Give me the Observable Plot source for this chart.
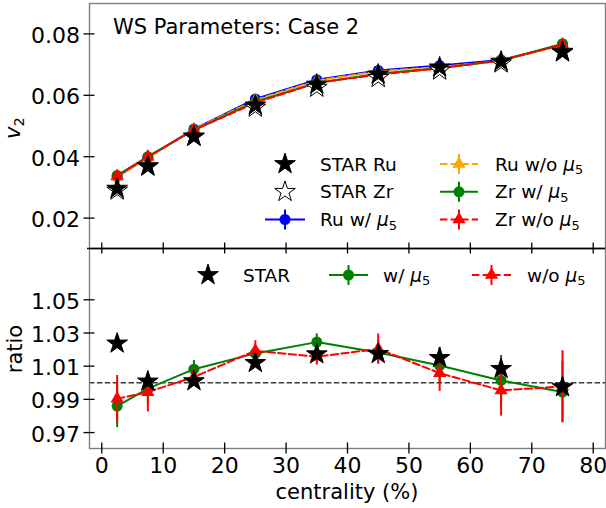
<!DOCTYPE html>
<html><head><meta charset="utf-8">
<script src="https://cdn.jsdelivr.net/npm/d3@7"></script>
<script src="https://cdn.jsdelivr.net/npm/@observablehq/plot@0.6"></script>
<style>
body{margin:0;background:#fff;}
#chart{position:relative;width:606px;height:508px;font-family:"DejaVu Sans",sans-serif;}
#chart svg{position:absolute;left:0;overflow:visible;}
</style></head><body><div id="chart"></div>
<script>
// ---- data ----
const centrality = [2.5, 7.5, 15, 25, 35, 45, 55, 65, 75];
const starRu    = [0.0296, 0.0369, 0.0466, 0.0567, 0.0635, 0.0668, 0.0691, 0.0710, 0.0740];
const starZr    = [0.0290, 0.0368, 0.0465, 0.0560, 0.0625, 0.0657, 0.0681, 0.0704, 0.0742];
const ruWith    = [0.0335, 0.0398, 0.0490, 0.0588, 0.0651, 0.0681, 0.0697, 0.0715, 0.0764];
const ruWithout = [0.0334, 0.0397, 0.0489, 0.0584, 0.0648, 0.0678, 0.0692, 0.0712, 0.0764];
const zrWith    = [0.0339, 0.0400, 0.0487, 0.0579, 0.0640, 0.0670, 0.0688, 0.0713, 0.0768];
const zrWithout = [0.0337, 0.0400, 0.0487, 0.0575, 0.0641, 0.0667, 0.0688, 0.0714, 0.0765];

const ratioStar       = [1.0237, 1.0008, 1.0010, 1.0120, 1.0172, 1.0174, 1.0150, 1.0084, 0.9974];
const ratioWith       = [0.9860, 0.9965, 1.0082, 1.0177, 1.0245, 1.0183, 1.0104, 1.0014, 0.9944];
const ratioWithErr    = [0.0130, 0.0080, 0.0052, 0.0040, 0.0050, 0.0070, 0.0110, 0.0150, 0.0186];
const ratioWithout    = [0.9904, 0.9944, 1.0035, 1.0193, 1.0157, 1.0204, 1.0058, 0.9954, 0.9978];
const ratioWithoutErr = [0.0140, 0.0120, 0.0050, 0.0060, 0.0050, 0.0090, 0.0110, 0.0155, 0.0215];

const xTicks = [0, 10, 20, 30, 40, 50, 60, 70, 80];
const yTopTicks = [0.02, 0.04, 0.06, 0.08];
const yBotTicks = [0.97, 0.99, 1.01, 1.03, 1.05];
const titleText = "WS Parameters: Case 2";
const xLabel = "centrality (%)";

// ---- layout ----
const W = 606, ML = 89, MR = 1;
const xDomain = [-2, 82];
const topH = 256, topMT = 3, topMB = 8;
const botTop = 248, botH = 260, botMT = 0, botMB = 60;
const yTopDomain = [0.0101, 0.0899];
const yBotDomain = [0.9604, 1.0809];
const TK = 5.5;
const frameW = W - ML - MR;
const spine = "#808080";
const dash = "7.4,3.2";
const rStar = 6.5, rCirc = 5.5, rTri = 4.9;

const rows = vals => centrality.map((c, i) => ({c, v: vals[i]}));
const rowsE = (vals, errs) => centrality.map((c, i) => ({c, v: vals[i], lo: vals[i] - errs[i], hi: vals[i] + errs[i]}));

function modelMarks(vals, color, symbol, r, dashed) {
  return [
    Plot.line(rows(vals), {x: "c", y: "v", stroke: color, strokeWidth: 2, strokeDasharray: dashed ? dash : null}),
    Plot.dot(rows(vals), {x: "c", y: "v", fill: color, stroke: "none", symbol, r})
  ];
}
function ratioMarks(vals, errs, color, symbol, r, dashed) {
  const d = rowsE(vals, errs);
  return [
    Plot.line(d, {x: "c", y: "v", stroke: color, strokeWidth: 2, strokeDasharray: dashed ? dash : null}),
    Plot.ruleX(d, {x: "c", y1: "lo", y2: "hi", stroke: color, strokeWidth: 2}),
    Plot.dot(d, {x: "c", y: "v", fill: color, stroke: "none", symbol, r})
  ];
}

const root = document.getElementById("chart");

// bottom panel
const topFrameH = topH - topMT - topMB;
const botFrameH = botH - botMT - botMB;
const botPlot = Plot.plot({
  width: W, height: botH, marginLeft: ML, marginRight: MR, marginTop: botMT, marginBottom: botMB,
  style: {background: "transparent", overflow: "visible", fontFamily: "DejaVu Sans"},
  x: {domain: xDomain, axis: null},
  y: {domain: yBotDomain, axis: null},
  marks: [
    Plot.ruleY([1], {stroke: "#3a3a3a", strokeWidth: 1.3, strokeDasharray: "5.5,2.4"}),
    ...ratioMarks(ratioWith, ratioWithErr, "green", "circle", rCirc, false),
    ...ratioMarks(ratioWithout, ratioWithoutErr, "red", "triangle", rTri, true),
    Plot.dot(rows(ratioStar), {x: "c", y: "v", symbol: "star", r: rStar, fill: "black", stroke: "black", strokeWidth: 1}),
    Plot.frame({stroke: spine, strokeWidth: 1.4}),
    Plot.tickY(yBotTicks, {y: d => d, insetLeft: -TK, insetRight: frameW - TK, stroke: "black", strokeWidth: 1.3}),
    Plot.tickX(xTicks, {x: d => d, insetTop: botFrameH - TK, insetBottom: -TK, stroke: "black", strokeWidth: 1.3}),
    Plot.axisY({ticks: yBotTicks, tickFormat: d3.format(".2f"), tickSize: 0, tickPadding: TK + 4, fontSize: 22, label: null, dy: 2, fill: "black"}),
    Plot.axisX({ticks: xTicks, tickFormat: d3.format("d"), tickSize: 0, tickPadding: TK + 3.5, fontSize: 22, label: null, fill: "black"})
  ]
});
botPlot.style.top = botTop + "px";
root.appendChild(botPlot);

// top panel
const topPlot = Plot.plot({
  width: W, height: topH, marginLeft: ML, marginRight: MR, marginTop: topMT, marginBottom: topMB,
  style: {background: "transparent", overflow: "visible", fontFamily: "DejaVu Sans"},
  x: {domain: xDomain, axis: null},
  y: {domain: yTopDomain, axis: null},
  marks: [
    ...modelMarks(ruWith, "blue", "circle", rCirc, false),
    ...modelMarks(ruWithout, "orange", "triangle", rTri, true),
    ...modelMarks(zrWith, "green", "circle", rCirc, false),
    ...modelMarks(zrWithout, "red", "triangle", rTri, true),
    Plot.dot(rows(starZr), {x: "c", y: "v", symbol: "star", r: rStar, fill: "white", stroke: "black", strokeWidth: 1}),
    Plot.dot(rows(starRu), {x: "c", y: "v", symbol: "star", r: rStar, fill: "black", stroke: "black", strokeWidth: 1}),
    Plot.frame({stroke: spine, strokeWidth: 1.4}),
    Plot.ruleY([yTopDomain[0]], {stroke: "black", strokeWidth: 1.6, insetLeft: -2}),
    Plot.tickY(yTopTicks, {y: d => d, insetLeft: -TK, insetRight: frameW - TK, stroke: "black", strokeWidth: 1.3}),
    Plot.tickX(xTicks, {x: d => d, insetTop: topFrameH - TK, insetBottom: -TK, stroke: "black", strokeWidth: 1.3}),
    Plot.axisY({ticks: yTopTicks, tickFormat: d3.format(".2f"), tickSize: 0, tickPadding: TK + 4, fontSize: 22, label: null, dy: 2, fill: "black"})
  ]
});
topPlot.style.top = "0px";
root.appendChild(topPlot);

// ---- overlay: title, axis labels, legends ----
const ov = d3.create("svg").attr("width", W).attr("height", 508)
  .style("top", "0px").attr("font-family", "DejaVu Sans");
const sym = (type, r) => d3.symbol(type, Math.PI * r * r)();

ov.append("text").attr("x", 113).attr("y", 34.3).attr("font-size", 21).text(titleText);

// y labels
const v2 = ov.append("text").attr("transform", "translate(20,128) rotate(-90)")
  .attr("text-anchor", "middle").attr("font-size", 21);
v2.append("tspan").attr("font-style", "italic").text("v");
v2.append("tspan").attr("font-size", 14.7).attr("dy", 4).text("2");
ov.append("text").attr("transform", "translate(21.5,349) rotate(-90)")
  .attr("text-anchor", "middle").attr("font-size", 21).text("ratio");
ov.append("text").attr("x", (ML + W - MR) / 2).attr("y", 499)
  .attr("text-anchor", "middle").attr("font-size", 21).text(xLabel);

function mu(textSel, prefix) {
  textSel.append("tspan").text(prefix);
  textSel.append("tspan").attr("font-style", "italic").text("μ");
  textSel.append("tspan").attr("font-size", 13).attr("dy", 3.5).text("5");
}
function handle(g, x0, x1, y, color, type, r, dashed, err) {
  g.append("line").attr("x1", x0).attr("x2", x1).attr("y1", y).attr("y2", y)
    .attr("stroke", color).attr("stroke-width", 2).attr("stroke-dasharray", dashed ? dash : null);
  if (err) g.append("line").attr("x1", (x0 + x1) / 2).attr("x2", (x0 + x1) / 2)
    .attr("y1", y - 10).attr("y2", y + 10).attr("stroke", color).attr("stroke-width", 2);
  g.append("path").attr("d", sym(type, r)).attr("transform", `translate(${(x0 + x1) / 2},${y})`).attr("fill", color);
}
const LF = 18.5;
// top legend
const tl = ov.append("g").attr("font-size", LF);
const ry = [164, 191.8, 219.5];
tl.append("path").attr("d", sym(d3.symbolStar, rStar)).attr("transform", `translate(285,${ry[0]})`).attr("fill", "black").attr("stroke", "black");
tl.append("text").attr("x", 320).attr("y", ry[0] + 6.5).text("STAR Ru");
tl.append("path").attr("d", sym(d3.symbolStar, rStar)).attr("transform", `translate(285,${ry[1]})`).attr("fill", "white").attr("stroke", "black");
tl.append("text").attr("x", 320).attr("y", ry[1] + 6.5).text("STAR Zr");
handle(tl, 265, 305, ry[2], "blue", d3.symbolCircle, rCirc, false, true);
mu(tl.append("text").attr("x", 320).attr("y", ry[2] + 6.5), "Ru w/ ");
handle(tl, 440, 478, ry[0], "orange", d3.symbolTriangle, rTri, true, true);
mu(tl.append("text").attr("x", 495).attr("y", ry[0] + 6.5), "Ru w/o ");
handle(tl, 440, 478, ry[1], "green", d3.symbolCircle, rCirc, false, true);
mu(tl.append("text").attr("x", 495).attr("y", ry[1] + 6.5), "Zr w/ ");
handle(tl, 440, 478, ry[2], "red", d3.symbolTriangle, rTri, true, true);
mu(tl.append("text").attr("x", 495).attr("y", ry[2] + 6.5), "Zr w/o ");

// bottom legend
const bl = ov.append("g").attr("font-size", LF);
const by = 275;
bl.append("path").attr("d", sym(d3.symbolStar, rStar)).attr("transform", `translate(208,${by})`).attr("fill", "black").attr("stroke", "black");
bl.append("text").attr("x", 243).attr("y", by + 6.5).text("STAR");
handle(bl, 329, 368, by, "green", d3.symbolCircle, rCirc, false, true);
mu(bl.append("text").attr("x", 383).attr("y", by + 6.5), "w/ ");
handle(bl, 472, 511, by, "red", d3.symbolTriangle, rTri, true, true);
mu(bl.append("text").attr("x", 527).attr("y", by + 6.5), "w/o ");

root.appendChild(ov.node());
</script>
</body></html>
